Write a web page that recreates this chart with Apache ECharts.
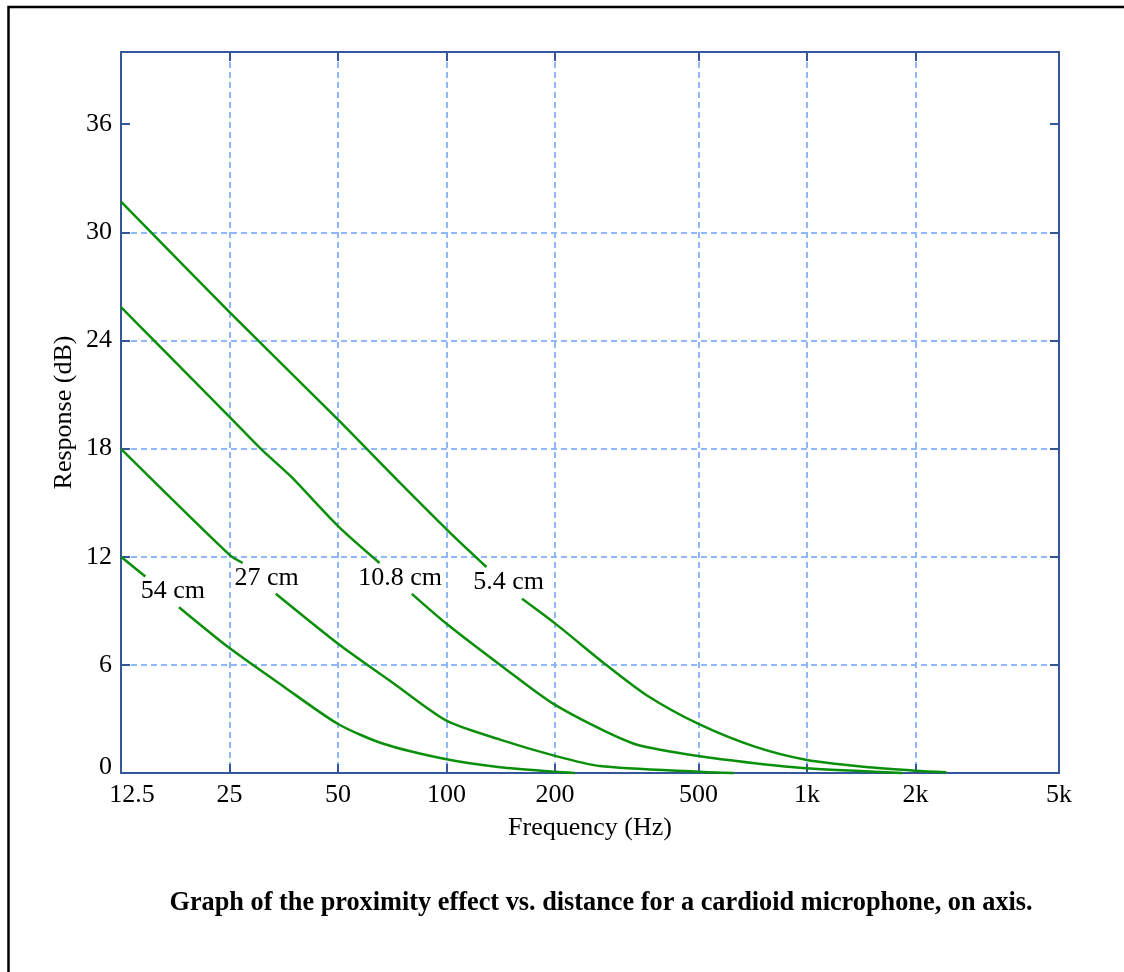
<!DOCTYPE html>
<html>
<head>
<meta charset="utf-8">
<title>Proximity effect vs. distance</title>
<script src="https://cdn.jsdelivr.net/npm/echarts@6.0.0/dist/echarts.min.js"></script>
<style>
  html, body { margin: 0; padding: 0; background: #fff; }
  #chart { width: 1124px; height: 972px; }
</style>
</head>
<body>
<div id="chart"></div>
<script>
// frequency ticks (log axis) and response ticks
const xTickFreqs = [12.5, 25, 50, 100, 200, 500, 1000, 2000, 5000]
const xTickLabels = ['12.5', '25', '50', '100', '200', '500', '1k', '2k', '5k']
const yTicks = [0, 6, 12, 18, 24, 30, 36]

// curves: frequency (Hz) / response (dB)
// null marks the break in the line where the distance label sits
const freq54 = [12.5, 14.6, null, 18.1, 25, 35.3, 50, 66.8, 100, 140.7, 200, 227]
const db54 = [12.0, 10.9, null, 9.2, 6.93, 4.8, 2.72, 1.62, 0.76, 0.32, 0.07, 0]

const freq27 = [12.5, 25, 27.2, null, 33.6, 50, 71.2, 100, 140.7, 200, 266, 500, 627]
const db27 = [17.98, 12.1, 11.65, null, 9.94, 7.17, 4.98, 2.9, 1.85, 0.95, 0.39, 0.07, 0]

const freq108 = [12.5, 25, 30.7, 37, 50, 65.2, null, 80.1, 100, 143, 200, 328, 500, 716, 1000, 1840]
const db108 = [25.85, 19.76, 17.94, 16.45, 13.7, 11.65, null, 9.94, 8.28, 5.9, 3.78, 1.65, 0.94, 0.54, 0.26, 0]

const freq54mm = [12.5, 25, 50, 72, 102, 129, null, 162, 200, 277, 358, 500, 716, 1000, 1436, 2000, 2435]
const db54mm = [31.7, 25.57, 19.6, 16.37, 13.35, 11.43, null, 9.67, 8.3, 6.0, 4.33, 2.72, 1.46, 0.72, 0.35, 0.13, 0.04]

// distance labels placed in the line breaks
const labelNames = ['54 cm', '27 cm', '10.8 cm', '5.4 cm']
const labelFreqs = [17.4, 31.7, 74.3, 148.6]
const labelDb = [10.06, 10.83, 10.83, 10.56]

const AXIS_COLOR = '#34569b'
const GRID_COLOR = '#8fb8fc'
const CURVE_COLOR = '#0a8f0a'
const FONT = '"Liberation Serif", "Times New Roman", serif'

const toLog = (f) => Math.log10(f)
const xTickVals = xTickFreqs.map(toLog)
const xMin = xTickVals[0]
const xMax = xTickVals[xTickVals.length - 1]

const buildCurve = (freqs, dbs) =>
  freqs.map((f, i) => (f === null ? ['-', '-'] : [toLog(f), dbs[i]]))

const xLabelIndex = (v) => xTickVals.findIndex((t) => Math.abs(t - v) < 1e-6)

const textStyle = { fontFamily: FONT, fontSize: 26, color: '#000' }

const curveSeries = (data) => ({
  type: 'line',
  xAxisIndex: 0,
  yAxisIndex: 0,
  data: data,
  symbol: 'none',
  showSymbol: false,
  connectNulls: false,
  smooth: 0.25,
  clip: false,
  silent: true,
  z: 3,
  lineStyle: { color: CURVE_COLOR, width: 2.5 },
})

const mirrorTick = { show: true, inside: true, length: 9, lineStyle: { color: AXIS_COLOR, width: 2 } }
const axisLine = { show: true, onZero: false, lineStyle: { color: AXIS_COLOR, width: 2 } }
const gridLine = {
  show: true,
  showMinLine: false,
  showMaxLine: false,
  lineStyle: { color: GRID_COLOR, width: 2, type: [6, 4] },
}

const chartInstance = echarts.init(document.getElementById('chart'))

const option = {
  animation: false,
  backgroundColor: '#fff',
  grid: { left: 121, right: 65, top: 52, bottom: 199, containLabel: false, outerBoundsMode: 'none' },
  xAxis: [
    {
      type: 'value',
      position: 'bottom',
      min: xMin,
      max: xMax,
      name: 'Frequency (Hz)',
      nameLocation: 'middle',
      nameGap: 42,
      nameMoveOverlap: false,
      nameTextStyle: textStyle,
      axisLine: axisLine,
      axisTick: Object.assign({ customValues: xTickVals }, mirrorTick),
      axisLabel: {
        customValues: xTickVals,
        margin: 9,
        hideOverlap: false,
        ...textStyle,
        formatter: (v) => {
          const i = xLabelIndex(v)
          if (i < 0) return ''
          return i === 0 ? '{first|' + xTickLabels[i] + '}' : xTickLabels[i]
        },
        rich: { first: { ...textStyle, padding: [0, 0, 0, 22] } },
      },
      splitLine: gridLine,
    },
    {
      type: 'value',
      position: 'top',
      min: xMin,
      max: xMax,
      axisLine: axisLine,
      axisTick: Object.assign({ customValues: xTickVals }, mirrorTick),
      axisLabel: { show: false },
      splitLine: { show: false },
    },
  ],
  yAxis: [
    {
      type: 'value',
      position: 'left',
      min: 0,
      max: 40,
      interval: 6,
      name: 'Response (dB)',
      nameLocation: 'middle',
      nameGap: 44,
      nameRotate: 90,
      nameMoveOverlap: false,
      nameTextStyle: textStyle,
      axisLine: axisLine,
      axisTick: Object.assign({ customValues: yTicks }, mirrorTick),
      axisLabel: {
        customValues: yTicks,
        margin: 9,
        hideOverlap: false,
        ...textStyle,
        formatter: (v) => (v === 0 ? '{zero|0}' : String(v)),
        rich: { zero: { ...textStyle, padding: [0, 0, 12, 0] } },
      },
      splitLine: gridLine,
    },
    {
      type: 'value',
      position: 'right',
      min: 0,
      max: 40,
      interval: 6,
      axisLine: axisLine,
      axisTick: Object.assign({ customValues: yTicks }, mirrorTick),
      axisLabel: { show: false },
      splitLine: { show: false },
    },
  ],
  graphic: [
    {
      type: 'rect',
      silent: true,
      shape: { x: 8.5, y: 7, width: 1400, height: 1400 },
      style: { fill: 'none', stroke: '#000', lineWidth: 2.5 },
    },
    {
      type: 'text',
      silent: true,
      x: 601,
      y: 903,
      style: {
        text: 'Graph of the proximity effect vs. distance for a cardioid microphone, on axis.',
        font: 'bold 26.3px ' + FONT,
        fill: '#000',
        align: 'center',
        verticalAlign: 'middle',
      },
    },
  ],
  series: [
    curveSeries(buildCurve(freq54, db54)),
    curveSeries(buildCurve(freq27, db27)),
    curveSeries(buildCurve(freq108, db108)),
    curveSeries(buildCurve(freq54mm, db54mm)),
    {
      type: 'scatter',
      xAxisIndex: 0,
      yAxisIndex: 0,
      symbolSize: 0,
      silent: true,
      z: 5,
      itemStyle: { opacity: 1 },
      data: labelNames.map((n, i) => ({ name: n, value: [toLog(labelFreqs[i]), labelDb[i]] })),
      label: {
        show: true,
        position: 'inside',
        formatter: '{b}',
        ...textStyle,
        opacity: 1,
        textBorderWidth: 0,
      },
    },
  ],
}

chartInstance.setOption(option)
window.addEventListener('resize', () => chartInstance.resize())
</script>
</body>
</html>
